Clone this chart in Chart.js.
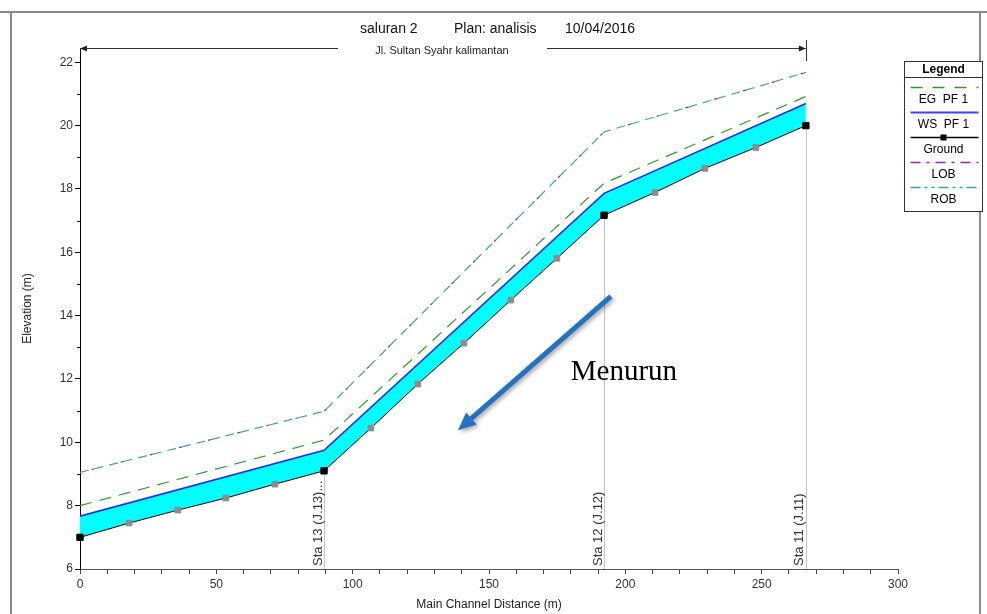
<!DOCTYPE html>
<html>
<head>
<meta charset="utf-8">
<script src="https://cdn.jsdelivr.net/npm/chart.js@4.4.0/dist/chart.umd.min.js"></script>
<style>
  html, body { margin: 0; padding: 0; background: #fff; }
  canvas { display: block; }
</style>
</head>
<body>
<canvas id="chart" width="987" height="614"></canvas>
<script>
// cross section stations (main channel distance, m)
const stationDist = [0, 89.5, 192.2, 266.2];
const stationNames = ["", "Sta 13 (J.13)...", "Sta 12 (J.12)", "Sta 11 (J.11)"];

// elevations at each station (m)
const egElev = [8.0, 10.07, 18.18, 20.92];
const wsElev = [7.67, 9.75, 17.86, 20.7];
const groundElev = [7.0, 9.1, 17.17, 20.0];
const lobElev = [9.05, 10.98, 19.8, 21.68];
const robElev = [9.05, 10.98, 19.8, 21.68];

// interpolated ground points shown as grey markers
const interpDist = [18.0, 35.9, 53.5, 71.5, 106.7, 123.9, 140.8, 158.0, 174.9, 210.9, 229.2, 247.9];
const interpGround = [7.45, 7.86, 8.24, 8.68, 10.45, 11.84, 13.13, 14.49, 15.81, 17.89, 18.65, 19.31];

const xTickLabels = [0, 50, 100, 150, 200, 250, 300];
const yTickLabels = [6, 8, 10, 12, 14, 16, 18, 20, 22];

const FONT = "'Liberation Sans', Arial, sans-serif";

const toPoints = (xs, ys) => xs.map((x, i) => ({ x, y: ys[i] }));

// ground line: stations + interpolated points, sorted by distance
const groundPts = toPoints(stationDist, groundElev).map(p => ({ ...p, sta: true }))
    .concat(toPoints(interpDist, interpGround).map(p => ({ ...p, sta: false })))
    .sort((a, b) => a.x - b.x);

const overlay = {
    id: "overlay",
    afterDraw(chart) {
        const { ctx, scales: { x, y }, chartArea } = chart;
        ctx.save();

        // outer frame
        ctx.strokeStyle = "#8a8a8a";
        ctx.lineWidth = 2;
        ctx.beginPath();
        ctx.moveTo(0, 12); ctx.lineTo(987, 12);
        ctx.moveTo(11, 12); ctx.lineTo(11, 614);
        ctx.moveTo(980, 12); ctx.lineTo(980, 614);
        ctx.stroke();

        // title
        ctx.fillStyle = "#111";
        ctx.font = "14px " + FONT;
        ctx.textBaseline = "alphabetic";
        ctx.textAlign = "left";
        ctx.fillText("saluran 2", 360, 33);
        ctx.fillText("Plan: analisis", 454, 33);
        ctx.fillText("10/04/2016", 565, 33);

        // reach dimension line
        const xa = x.getPixelForValue(stationDist[0]);
        const xb = x.getPixelForValue(stationDist[stationDist.length - 1]);
        const yd = 48.5;
        ctx.strokeStyle = "#333";
        ctx.lineWidth = 1;
        ctx.beginPath();
        ctx.moveTo(xa, yd); ctx.lineTo(338, yd);
        ctx.moveTo(547, yd); ctx.lineTo(xb, yd);
        ctx.moveTo(Math.round(xb) + 0.5, 40); ctx.lineTo(Math.round(xb) + 0.5, 61);
        ctx.stroke();
        ctx.fillStyle = "#222";
        ctx.beginPath();
        ctx.moveTo(xa, yd); ctx.lineTo(xa + 7, yd - 3); ctx.lineTo(xa + 7, yd + 3); ctx.closePath();
        ctx.moveTo(xb, yd); ctx.lineTo(xb - 7, yd - 3); ctx.lineTo(xb - 7, yd + 3); ctx.closePath();
        ctx.fill();
        ctx.font = "11px " + FONT;
        ctx.textAlign = "center";
        ctx.textBaseline = "middle";
        ctx.fillText("Jl. Sultan Syahr kalimantan", 442, 51);

        // y minor ticks
        ctx.strokeStyle = "#000";
        ctx.beginPath();
        for (let v = 7; v <= 21; v += 2) {
            const py = Math.round(y.getPixelForValue(v)) + 0.5;
            ctx.moveTo(chartArea.left - 3, py); ctx.lineTo(chartArea.left, py);
        }
        ctx.stroke();

        // axis titles
        ctx.fillStyle = "#222";
        ctx.font = "12px " + FONT;
        ctx.textAlign = "center";
        ctx.textBaseline = "middle";
        ctx.fillText("Main Channel Distance (m)", (chartArea.left + chartArea.right) / 2, 605);
        ctx.save();
        ctx.translate(28, (chartArea.top + chartArea.bottom) / 2);
        ctx.rotate(-Math.PI / 2);
        ctx.fillText("Elevation (m)", 0, 0);
        ctx.restore();

        // station labels
        ctx.fillStyle = "#333";
        ctx.font = "13px " + FONT;
        ctx.textAlign = "left";
        ctx.textBaseline = "middle";
        stationDist.forEach((d, i) => {
            if (!stationNames[i]) return;
            const px = x.getPixelForValue(d);
            ctx.save();
            ctx.translate(px - 6, chartArea.bottom - 3);
            ctx.rotate(-Math.PI / 2);
            ctx.fillText(stationNames[i], 0, 0);
            ctx.restore();
        });

        // arrow annotation
        const ax0 = x.getPixelForValue(194.7), ay0 = y.getPixelForValue(14.61);
        const ax1 = x.getPixelForValue(138.6), ay1 = y.getPixelForValue(10.38);
        const ang = Math.atan2(ay1 - ay0, ax1 - ax0);
        const headLen = 18, headW = 8;
        const bx = ax1 - headLen * Math.cos(ang), by = ay1 - headLen * Math.sin(ang);
        ctx.save();
        ctx.shadowColor = "rgba(0,0,0,0.35)";
        ctx.shadowBlur = 4;
        ctx.shadowOffsetX = 2;
        ctx.shadowOffsetY = 2;
        ctx.strokeStyle = "#2472c2";
        ctx.fillStyle = "#2472c2";
        ctx.lineWidth = 5;
        ctx.beginPath();
        ctx.moveTo(ax0, ay0); ctx.lineTo(bx, by);
        ctx.stroke();
        ctx.beginPath();
        ctx.moveTo(ax1, ay1);
        ctx.lineTo(bx + headW * Math.sin(ang), by - headW * Math.cos(ang));
        ctx.lineTo(bx - headW * Math.sin(ang), by + headW * Math.cos(ang));
        ctx.closePath();
        ctx.fill();
        ctx.restore();

        ctx.fillStyle = "#000";
        ctx.font = "29px 'Liberation Serif', 'Times New Roman', serif";
        ctx.textAlign = "left";
        ctx.textBaseline = "alphabetic";
        ctx.fillText("Menurun", x.getPixelForValue(180), y.getPixelForValue(11.96));

        // legend box
        const lx = 904.5, lw = 78, ltop = 61.5;
        ctx.fillStyle = "#fff";
        ctx.fillRect(lx, ltop, lw, 150);
        ctx.strokeStyle = "#333";
        ctx.lineWidth = 1;
        ctx.strokeRect(lx, ltop, lw, 150);
        ctx.beginPath();
        ctx.moveTo(lx, 77.5); ctx.lineTo(lx + lw, 77.5);
        ctx.stroke();
        ctx.fillStyle = "#000";
        ctx.font = "bold 12px " + FONT;
        ctx.textAlign = "center";
        ctx.textBaseline = "middle";
        ctx.fillText("Legend", lx + lw / 2, 69.5);

        const entries = [
            { label: "EG  PF 1", color: "#2e9a2e", dash: [12, 10], width: 1.5 },
            { label: "WS  PF 1", color: "#4040ff", dash: [], width: 2 },
            { label: "Ground", color: "#000", dash: [], width: 1.3, marker: true },
            { label: "LOB", color: "#a020a0", dash: [10, 6, 3, 6], width: 1.5 },
            { label: "ROB", color: "#3ca6a6", dash: [10, 4, 3, 4, 3, 4], width: 1.5 },
        ];
        entries.forEach((e, i) => {
            const sy = 87.5 + i * 25;
            ctx.strokeStyle = e.color;
            ctx.lineWidth = e.width;
            ctx.setLineDash(e.dash);
            ctx.beginPath();
            ctx.moveTo(lx + 6, sy); ctx.lineTo(lx + lw - 4, sy);
            ctx.stroke();
            ctx.setLineDash([]);
            if (e.marker) {
                ctx.fillStyle = "#000";
                ctx.fillRect(lx + lw / 2 - 3, sy - 3, 6, 6);
            }
            ctx.fillStyle = "#000";
            ctx.font = "12px " + FONT;
            ctx.fillText(e.label, lx + lw / 2, sy + 12);
        });

        ctx.restore();
    },
    beforeDatasetsDraw(chart) {
        const { ctx, scales: { x, y }, chartArea } = chart;
        ctx.save();
        ctx.strokeStyle = "#c4c4c4";
        ctx.lineWidth = 1;
        ctx.beginPath();
        stationDist.forEach((d, i) => {
            if (!stationNames[i]) return;
            const px = Math.round(x.getPixelForValue(d)) + 0.5;
            ctx.moveTo(px, y.getPixelForValue(groundElev[i]));
            ctx.lineTo(px, chartArea.bottom);
        });
        ctx.stroke();
        ctx.restore();
    },
};

new Chart(document.getElementById("chart"), {
    type: "line",
    data: {
        datasets: [
            {
                label: "LOB",
                order: 5,
                data: toPoints(stationDist, lobElev),
                borderColor: "#a020a0",
                borderWidth: 1.2,
                borderDash: [3, 27],
                borderDashOffset: -12,
                pointRadius: 0,
                fill: false,
            },
            {
                label: "ROB",
                order: 4,
                data: toPoints(stationDist, robElev),
                borderColor: "#3fa3a3",
                borderWidth: 1.2,
                borderDash: [9, 6],
                pointRadius: 0,
                fill: false,
            },
            {
                label: "EG  PF 1",
                order: 3,
                data: toPoints(stationDist, egElev),
                borderColor: "#2e9a2e",
                borderWidth: 1.2,
                borderDash: [12, 8],
                pointRadius: 0,
                fill: false,
            },
            {
                label: "WS  PF 1",
                order: 2,
                data: toPoints(stationDist, wsElev),
                borderColor: "#2a2aff",
                backgroundColor: "#00ffff",
                borderWidth: 1.6,
                pointRadius: 0,
                fill: "+1",
            },
            {
                label: "Ground",
                order: 1,
                clip: false,
                data: groundPts,
                borderColor: "#000",
                borderWidth: 1,
                pointStyle: "rect",
                pointRadius: groundPts.map(p => (p.sta ? 4.5 : 4)),
                pointBackgroundColor: groundPts.map(p => (p.sta ? "#000" : "#8c8c8c")),
                pointBorderColor: groundPts.map(p => (p.sta ? "#000" : "#8c8c8c")),
                pointBorderWidth: 1,
                fill: false,
            },
        ],
    },
    options: {
        responsive: false,
        animation: false,
        devicePixelRatio: 1,
        layout: { padding: { left: 0, top: 48, right: 89, bottom: 0 } },
        plugins: {
            legend: { display: false },
            tooltip: { enabled: false },
        },
        elements: { line: { tension: 0 } },
        scales: {
            x: {
                type: "linear",
                min: 0,
                max: 300,
                afterFit: s => { s.height = 45; },
                border: { display: true, color: "#555" },
                grid: { drawOnChartArea: false, drawTicks: true, tickLength: 5, color: "#444" },
                ticks: {
                    stepSize: 10,
                    autoSkip: false,
                    maxRotation: 0,
                    padding: 3,
                    color: "#333",
                    font: { family: FONT, size: 12 },
                    callback: v => (xTickLabels.includes(v) ? String(v) : ""),
                },
            },
            y: {
                type: "linear",
                min: 6,
                max: 22.45,
                afterFit: s => { s.width = 80; },
                border: { display: true, color: "#000" },
                grid: {
                    drawOnChartArea: false,
                    drawTicks: true,
                    tickLength: 5,
                    color: c => (yTickLabels.includes(c.tick.value) ? "#000" : "rgba(0,0,0,0)"),
                },
                ticks: {
                    stepSize: 1,
                    padding: 2,
                    color: "#333",
                    font: { family: FONT, size: 12 },
                    callback: v => (yTickLabels.includes(v) ? String(v) : ""),
                },
            },
        },
    },
    plugins: [overlay],
});
</script>
</body>
</html>
